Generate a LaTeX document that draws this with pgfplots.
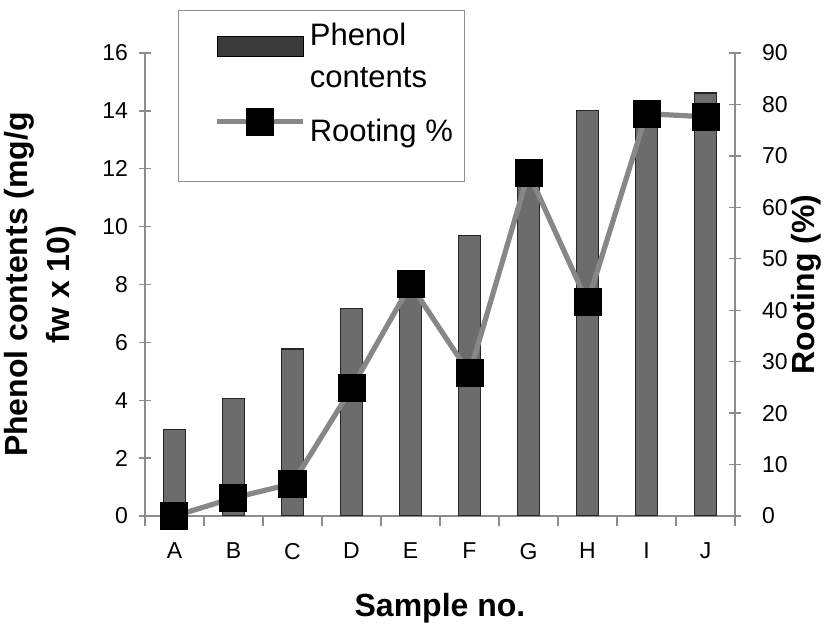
\documentclass[border=0pt]{standalone}
\usepackage{fontspec}
\setmainfont{Liberation Sans}
\usepackage{pgfplots}
\pgfplotsset{compat=1.18}
\definecolor{bargray}{RGB}{108,108,108}
\definecolor{linegray}{RGB}{135,135,135}
\definecolor{axgray}{RGB}{140,140,140}
\pgfplotsset{rootleg/.style={legend image code/.code={
    \path (-14pt,0pt);
    \draw[mark repeat=2, mark phase=2, ##1] plot coordinates {(0pt,5pt) (21.5pt,5pt) (43pt,5pt)};}}}
\begin{document}
\begin{tikzpicture}
\path[use as bounding box] (-72.5pt,-54.5pt) rectangle (340pt,258pt);
\begin{axis}[
  scale only axis, width=295pt, height=231.5pt,
  xmin=-0.5, xmax=9.5, ymin=0, ymax=16,
  axis x line*=bottom, axis y line*=left,
  axis line style={axgray, line width=0.7pt, -},
  xtick={0,1,2,3,4,5,6,7,8,9},
  xticklabels={A,B,C,D,E,F,G,H,I,J},
  major x tick style={draw=none},
  minor xtick={-0.5,0.5,1.5,2.5,3.5,4.5,5.5,6.5,7.5,8.5,9.5},
  minor x tick style={axgray, line width=0.7pt},
  minor tick length=5pt,
  ytick={0,2,...,16},
  ytick style={axgray, line width=0.7pt},
  major tick length=6pt,
  tick align=center,
  /pgf/number format/assume math mode=true,
  tick label style={font=\fontsize{11.5}{13}\selectfont, black},
  xticklabel style={yshift=-4pt},
  yticklabel style={xshift=-2pt},
  ylabel={Phenol contents (mg/g\\fw x 10)},
  ylabel style={align=center, font=\fontsize{16}{21}\selectfont\bfseries, yshift=6pt},
  xlabel={Sample no.},
  xlabel style={font=\fontsize{16}{19}\selectfont\bfseries, yshift=-10pt},
  ybar, bar width=11pt,
]
\addplot[fill=bargray, draw=black!85, line width=0.6pt] coordinates {
(0,3.0) (1,4.05) (2,5.77) (3,7.17) (4,8.1) (5,9.7) (6,12.1) (7,14.0) (8,14.1) (9,14.62)};
\end{axis}
\begin{axis}[
  scale only axis, width=295pt, height=231.5pt,
  xmin=-0.5, xmax=9.5, ymin=0, ymax=90,
  axis y line*=right, axis x line=none,
  axis line style={axgray, line width=0.7pt, -},
  ytick={0,10,...,90},
  ytick style={axgray, line width=0.7pt},
  major tick length=6pt,
  tick align=center,
  /pgf/number format/assume math mode=true,
  tick label style={font=\fontsize{11.5}{13}\selectfont, black},
  yticklabel style={xshift=7pt},
  ylabel={Rooting (\%)},
  ylabel style={font=\fontsize{16}{19}\selectfont\bfseries, yshift=5pt},
  legend style={draw=axgray, fill=white, line width=0.6pt,
    at={(0.056,1.093)}, anchor=north west,
    font=\fontsize{15.5}{21}\selectfont,
    cells={align=left, anchor=west}, inner xsep=4pt, inner ysep=4pt,
    row sep=7pt},
  legend cell align=left,
]
\addlegendimage{legend image code/.code={
  \path (-14pt,0pt);
  \filldraw[fill=bargray!55!black, draw=black, line width=0.5pt] (0pt,0pt) rectangle (43pt,10pt);}}
\addlegendentry{Phenol\\contents}
\addplot[linegray, line width=2.6pt, mark=square*, mark size=6.75pt,
  mark options={fill=black, draw=black, line width=0pt}, rootleg]
 coordinates {
(0,0) (1,3.5) (2,6.3) (3,24.8) (4,45.0) (5,27.7) (6,66.7) (7,41.5) (8,78.2) (9,77.6)};
\addlegendentry{Rooting \%}
\addlegendimage{empty legend}
\addlegendentry{}
\end{axis}
\end{tikzpicture}
\end{document}
